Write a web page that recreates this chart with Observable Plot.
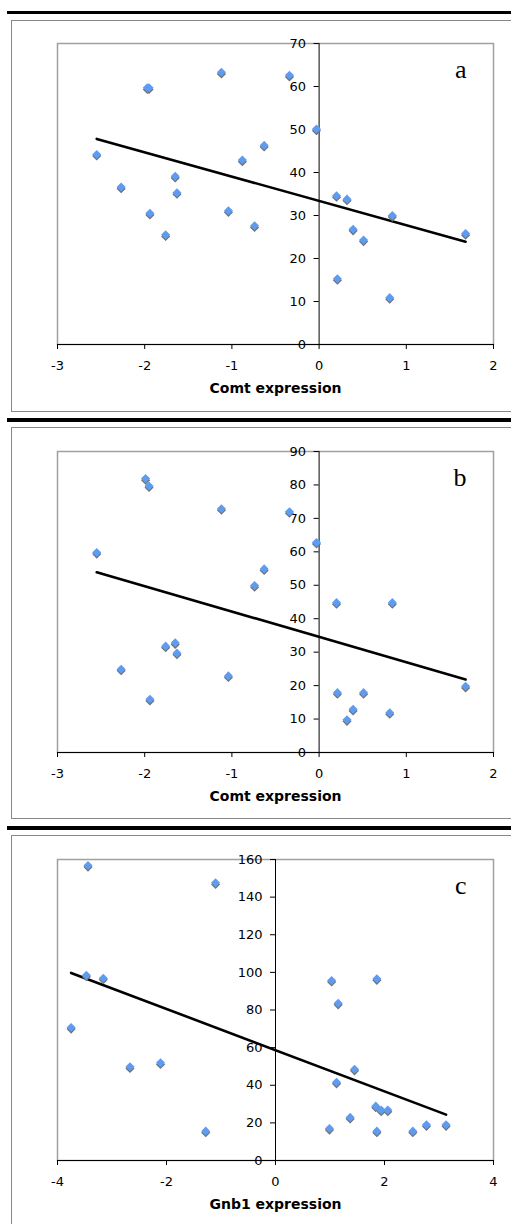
<!DOCTYPE html>
<html>
<head>
<meta charset="utf-8">
<script src="https://cdn.jsdelivr.net/npm/d3@7"></script>
<script src="https://cdn.jsdelivr.net/npm/@observablehq/plot@0.6"></script>
<style>
  body { margin: 0; background: #fff; }
  #page { position: relative; width: 511px; height: 1224px; overflow: hidden; background: #fff; }
  .rule { position: absolute; background: #000; left: 7px; width: 504px; }
  .box { position: absolute; left: 11px; width: 520px; border: 1.5px solid #888; box-sizing: border-box; }
  .panel { position: absolute; left: 0; }
</style>
</head>
<body>
<div id="page">
  <div class="rule" style="top:11px;height:3px"></div>
  <div class="box" style="top:20px;height:392px"></div>
  <div class="rule" style="top:418px;height:4px"></div>
  <div class="box" style="top:427px;height:392px"></div>
  <div class="rule" style="top:826px;height:4px"></div>
  <div class="box" style="top:835px;height:400px"></div>
  <div class="panel" id="pa" style="top:20px"></div>
  <div class="panel" id="pb" style="top:428px"></div>
  <div class="panel" id="pc" style="top:836px"></div>
</div>
<script>
// Panel a: Comt expression vs value
const comtA_x = [-2.55, -2.27, -1.97, -1.95, -1.94, -1.76, -1.65, -1.63, -1.12, -1.04, -0.88, -0.74, -0.63, -0.34, -0.03, 0.20, 0.32, 0.21, 0.39, 0.51, 0.84, 0.81, 1.68];
const valA_y  = [44.2, 36.6, 59.7, 59.7, 30.5, 25.5, 39.1, 35.3, 63.3, 31.1, 42.9, 27.6, 46.3, 62.6, 50.1, 34.6, 33.8, 15.3, 26.8, 24.3, 30.0, 10.9, 25.8];
// Panel b
const comtB_x = [-2.55, -2.27, -1.99, -1.95, -1.94, -1.76, -1.65, -1.63, -1.12, -1.04, -0.74, -0.63, -0.34, -0.03, 0.20, 0.21, 0.32, 0.39, 0.51, 0.84, 0.81, 1.68];
const valB_y  = [59.8, 24.9, 81.9, 79.7, 15.9, 31.8, 32.8, 29.7, 72.9, 22.9, 49.9, 54.9, 72.0, 62.8, 44.8, 17.9, 9.8, 12.9, 17.9, 44.8, 11.9, 19.8];
// Panel c: Gnb1 expression
const gnb1C_x = [-3.75, -3.44, -3.47, -3.16, -2.67, -2.11, -1.28, -1.10, 1.03, 1.15, 1.86, 1.12, 1.45, 1.37, 0.99, 1.84, 1.94, 2.06, 1.86, 2.52, 2.77, 3.13];
const valC_y  = [70.7, 156.8, 98.5, 96.9, 49.8, 51.9, 15.6, 147.6, 95.7, 83.6, 96.6, 41.6, 48.5, 22.9, 17.0, 28.9, 26.8, 26.8, 15.6, 15.6, 19.0, 19.0];

const ticksA_x = [-3, -2, -1, 0, 1, 2];
const ticksA_y = [0, 10, 20, 30, 40, 50, 60, 70];
const ticksB_y = [0, 10, 20, 30, 40, 50, 60, 70, 80, 90];
const ticksC_x = [-4, -2, 0, 2, 4];
const ticksC_y = [0, 20, 40, 60, 80, 100, 120, 140, 160];

const labels = ["Comt expression", "Comt expression", "Gnb1 expression"];
const letters = ["a", "b", "c"];

const sans = "DejaVu Sans, Verdana, sans-serif";

function panel(xs, ys, xTicks, yTicks, label, letter, height) {
  const data = xs.map((x, i) => ({x, y: ys[i]}));
  const xDomain = [xTicks[0], xTicks[xTicks.length - 1]];
  const yDomain = [yTicks[0], yTicks[yTicks.length - 1]];
  return Plot.plot({
    width: 511,
    height,
    marginLeft: 57,
    marginRight: 18,
    marginTop: 23,
    marginBottom: height - 23 - 301,
    x: {domain: xDomain, axis: null},
    y: {domain: yDomain, axis: null},
    style: {fontFamily: sans, fontSize: "13px", background: "transparent", overflow: "visible", color: "#000"},
    marks: [
      Plot.frame({stroke: "#a0a0a0", strokeWidth: 1.5}),
      Plot.ruleX([0], {stroke: "#000", strokeWidth: 1}),
      Plot.ruleY([yDomain[0]], {stroke: "#000", strokeWidth: 1}),
      Plot.ruleY(yTicks, {y: d => d, x1: 0, x2: 0, insetLeft: -5, stroke: "#000", strokeWidth: 1}),
      Plot.ruleX(xTicks, {x: d => d, y1: yDomain[0], y2: yDomain[0], insetBottom: -5, stroke: "#000", strokeWidth: 1}),
      Plot.text(yTicks, {x: 0, y: d => d, text: d => String(d), textAnchor: "end", dx: -13, fontSize: 13, fill: "#000"}),
      Plot.text(xTicks, {x: d => d, y: yDomain[0], text: d => String(d), dy: 21, fontSize: 13, fill: "#000"}),
      Plot.text([label], {frameAnchor: "bottom", lineAnchor: "middle", dy: 44, fontWeight: "bold", fontSize: 14, fill: "#000"}),
      Plot.text([letter], {frameAnchor: "top-right", textAnchor: "end", lineAnchor: "bottom", dx: -27, dy: 34, fontFamily: "Liberation Serif, Times New Roman, serif", fontSize: 26, fill: "#000"}),
      Plot.linearRegressionY(data, {x: "x", y: "y", ci: 0, stroke: "#000", strokeWidth: 2.6}),
      Plot.dot(data, {x: "x", y: "y", symbol: "diamond2", r: 4.1, fill: "#707070", dy: 1.6}),
      Plot.dot(data, {x: "x", y: "y", symbol: "diamond2", r: 4.1, fill: "#5e9cf2"})
    ]
  });
}

document.getElementById("pa").append(panel(comtA_x, valA_y, ticksA_x, ticksA_y, labels[0], letters[0], 392));
document.getElementById("pb").append(panel(comtB_x, valB_y, ticksA_x, ticksB_y, labels[1], letters[1], 391));
document.getElementById("pc").append(panel(gnb1C_x, valC_y, ticksC_x, ticksC_y, labels[2], letters[2], 388));
</script>
</body>
</html>
